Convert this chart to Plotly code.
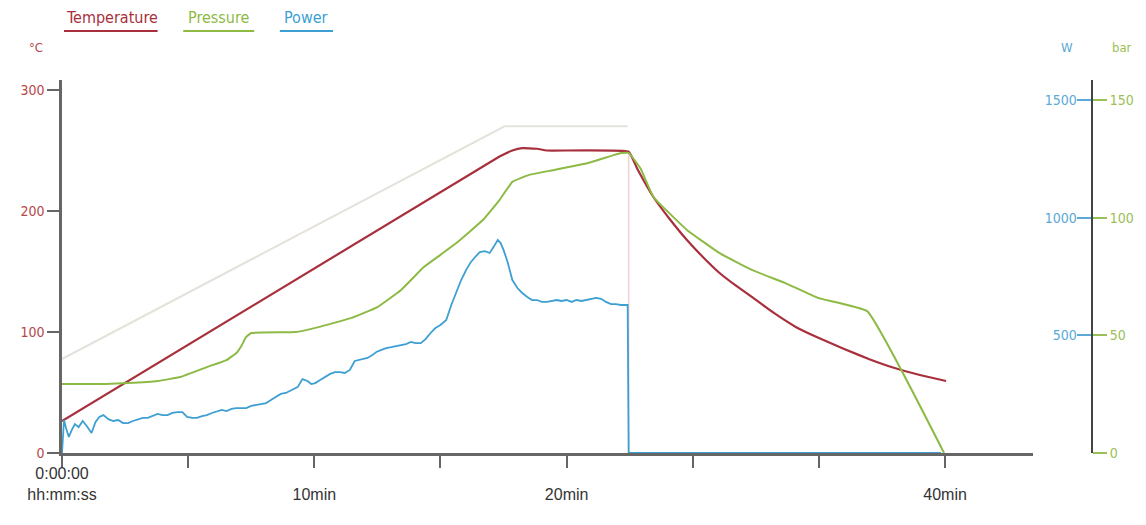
import plotly.graph_objects as go

# ---------------- data ----------------
# time in minutes
setpoint_t = [0.0, 17.54, 22.42]
setpoint_c = [77.7, 270.0, 270.0]

marker_t = [22.46, 22.46]
marker_c = [249.0, 0.0]

temp_t = [0.0, 17.34, 17.85, 18.24, 18.83, 19.22, 22.46, 22.8, 23.44, 24.1, 24.77, 25.4,
          26.05, 26.7, 27.34, 28.2, 29.1, 30.0, 31.0, 32.0, 33.0, 34.0, 35.04]
temp_c = [26.5, 245.0, 250.0, 252.0, 251.5, 250.0, 249.0, 235.0, 211.6, 193.0, 176.0, 162.0,
          149.0, 138.5, 129.0, 116.0, 104.0, 95.0, 86.0, 77.5, 70.2, 64.5, 59.5]

press_t = [0.0, 1.72, 2.62, 3.79, 4.69, 5.74, 6.52, 6.91, 7.11, 7.30, 7.50, 9.26, 10.16,
           11.48, 12.5, 13.44, 14.34, 15.0, 15.63, 16.68, 17.34, 17.85, 18.52, 19.53,
           20.86, 22.15, 22.46, 22.93, 23.44, 24.77, 26.05, 27.34, 28.67, 29.96, 31.91, 34.96]
press_bar = [29.3, 29.3, 29.7, 30.6, 32.3, 36.5, 39.5, 42.5, 45.5, 49.3, 51.0, 51.4, 53.5,
             57.4, 62.0, 69.3, 79.0, 84.2, 89.2, 99.0, 107.5, 115.2, 118.2, 120.3,
             123.2, 127.5, 127.5, 120.9, 108.8, 94.8, 85.0, 77.8, 72.2, 65.9, 60.3, 0.0]

power_t = [0.00, 0.04, 0.08, 0.16, 0.27, 0.39, 0.51, 0.66, 0.82, 0.98, 1.17, 1.33, 1.48,
           1.64, 1.84, 2.03, 2.23, 2.42, 2.62, 2.81, 3.01, 3.20, 3.40, 3.59, 3.79, 3.98,
           4.18, 4.38, 4.57, 4.77, 4.96, 5.16, 5.35, 5.55, 5.74, 5.94, 6.13, 6.33, 6.52,
           6.72, 6.91, 7.30, 7.50, 7.70, 7.89, 8.09, 8.28, 8.48, 8.67, 8.87, 9.14, 9.34,
           9.53, 9.73, 9.88, 10.04, 10.23, 10.43, 10.63, 10.82, 11.02, 11.21, 11.41, 11.60,
           11.80, 11.99, 12.11, 12.30, 12.46, 12.66, 12.85, 13.05, 13.24, 13.44, 13.63,
           13.83, 14.02, 14.22, 14.41, 14.61, 14.80, 15.00, 15.23, 15.43, 15.63, 15.82,
           16.02, 16.21, 16.41, 16.56, 16.76, 16.95, 17.11, 17.27, 17.38, 17.50, 17.66,
           17.85, 18.05, 18.24, 18.44, 18.63, 18.83, 19.02, 19.22, 19.41, 19.61, 19.80,
           20.00, 20.20, 20.39, 20.59, 20.78, 20.98, 21.17, 21.37, 21.56, 21.76, 21.95,
           22.15, 22.42, 22.46, 34.84]
power_w = [0, 98, 140, 106, 68, 98, 123, 110, 136, 115, 85, 132, 153,
           161, 144, 136, 140, 127, 127, 136, 144, 149, 149, 157, 166, 161,
           161, 170, 174, 174, 153, 149, 149, 157, 161, 170, 178, 183, 178,
           187, 191, 191, 200, 204, 208, 212, 225, 238, 251, 255, 268, 280,
           314, 306, 293, 297, 310, 323, 336, 344, 344, 340, 353, 391,
           395, 400, 404, 416, 429, 438, 446, 450, 455, 459, 463,
           472, 467, 467, 484, 510, 531, 544, 565, 629, 684, 735,
           778, 812, 837, 854, 858, 850, 876, 905, 893, 863, 812,
           735, 701, 680, 663, 650, 650, 642, 642, 646, 650, 646,
           650, 642, 650, 646, 650, 655, 659, 655, 642, 633, 633,
           629, 629, 0, 0]

x_tickvals = [0, 5, 10, 15, 20, 25, 30, 35]
x_ticktext = ["0:00:00<br>hh:mm:ss", "", " <br>10min", "", " <br>20min", "", "", " <br>40min"]
temp_ticks = [0, 100, 200, 300]
power_ticks = [0, 500, 1000, 1500]
press_ticks = [0, 50, 100, 150]

# ---------------- style ----------------
RED = "#a8303c"
GREEN = "#8dba45"
BLUE = "#3d9fd2"
AXIS = "#666666"
NARROW = "DejaVu Sans Condensed, Liberation Sans Narrow, Arial Narrow, Liberation Sans, sans-serif"

fig = go.Figure()
fig.add_trace(go.Scatter(x=setpoint_t, y=setpoint_c, mode="lines", yaxis="y",
                         line=dict(color="#e4e2da", width=2), showlegend=False))
fig.add_trace(go.Scatter(x=marker_t, y=marker_c, mode="lines", yaxis="y",
                         line=dict(color="#f0d0d3", width=1.5), showlegend=False))
fig.add_trace(go.Scatter(x=temp_t, y=temp_c, mode="lines", yaxis="y", name="Temperature",
                         line=dict(color=RED, width=2.2, shape="spline", smoothing=0.3),
                         showlegend=False))
fig.add_trace(go.Scatter(x=power_t, y=power_w, mode="lines", yaxis="y2", name="Power",
                         line=dict(color=BLUE, width=1.8), showlegend=False))
fig.add_trace(go.Scatter(x=press_t, y=press_bar, mode="lines", yaxis="y3", name="Pressure",
                         line=dict(color=GREEN, width=2, shape="spline", smoothing=0.3),
                         showlegend=False))

W_PX = 1045.0  # paper width in px
H_PX = 373.0   # paper height in px


def px_x(p):
    return (p - 53) / W_PX


def px_y(p):
    return (453 - p) / H_PX


annotations = [
    dict(text="Temperature", x=px_x(104), y=px_y(18), font=dict(color=RED, size=16, family=NARROW)),
    dict(text="Pressure", x=px_x(212), y=px_y(18), font=dict(color=GREEN, size=16, family=NARROW)),
    dict(text="Power", x=px_x(301), y=px_y(18), font=dict(color=BLUE, size=16, family=NARROW)),
    dict(text="°C", x=px_x(27), y=px_y(48), font=dict(color="#b5474b", size=13, family=NARROW)),
    dict(text="W", x=px_x(1073), y=px_y(48), font=dict(color="#5aa9d6", size=13, family=NARROW)),
    dict(text="bar", x=px_x(1128), y=px_y(48), font=dict(color="#9bbf55", size=13, family=NARROW)),
]
for a in annotations:
    a.update(xref="paper", yref="paper", showarrow=False, xanchor="center", yanchor="middle")

shapes = []
for x0, x1, c in [(55, 150, RED), (176, 248, GREEN), (274, 328, BLUE)]:
    shapes.append(dict(type="line", xref="paper", yref="paper", x0=px_x(x0), x1=px_x(x1),
                       y0=px_y(31), y1=px_y(31), line=dict(color=c, width=2)))

fig.update_layout(
    width=1138, height=517,
    margin=dict(l=45, r=48, t=72, b=72),
    paper_bgcolor="white", plot_bgcolor="white",
    font=dict(family="Liberation Sans, Arial, sans-serif", size=13, color="#333"),
    showlegend=False,
    annotations=annotations,
    shapes=shapes,
    xaxis=dict(domain=[0, (1038 - 53) / W_PX], range=[0, 38.48], showgrid=False, zeroline=False,
               showline=True, linecolor=AXIS, linewidth=2.5, ticks="outside", ticklen=12,
               tickwidth=2, tickcolor=AXIS, tickvals=x_tickvals, ticktext=x_ticktext,
               tickfont=dict(size=16, color="#333"), ticklabelstandoff=-8,
               layer="below traces", anchor="y"),
    yaxis=dict(range=[0, 308.3], showgrid=False, zeroline=False, showline=True, linecolor=AXIS,
               linewidth=2.5, ticks="outside", ticklen=12, tickwidth=2, tickcolor=AXIS,
               tickvals=temp_ticks, tickfont=dict(size=14, color="#b5474b", family=NARROW),
               layer="below traces"),
    yaxis2=dict(range=[0, 1585], overlaying="y", side="right", anchor="free", position=1.0,
                showgrid=False, zeroline=False, showline=True, linecolor="#444", linewidth=2,
                ticks="inside", ticklen=14, tickwidth=2, tickcolor="#5aa9d6",
                ticklabelposition="inside", tickvals=power_ticks,
                tickfont=dict(size=14, color="#5aa9d6", family=NARROW)),
    yaxis3=dict(range=[0, 158.5], overlaying="y", side="right", anchor="free", position=1.0,
                showgrid=False, zeroline=False, showline=True, linecolor="#444", linewidth=2,
                ticks="outside", ticklen=14, tickwidth=2, tickcolor="#9bbf55",
                tickvals=press_ticks, tickfont=dict(size=14, color="#9bbf55", family=NARROW)),
)

fig.write_html("out.html")
